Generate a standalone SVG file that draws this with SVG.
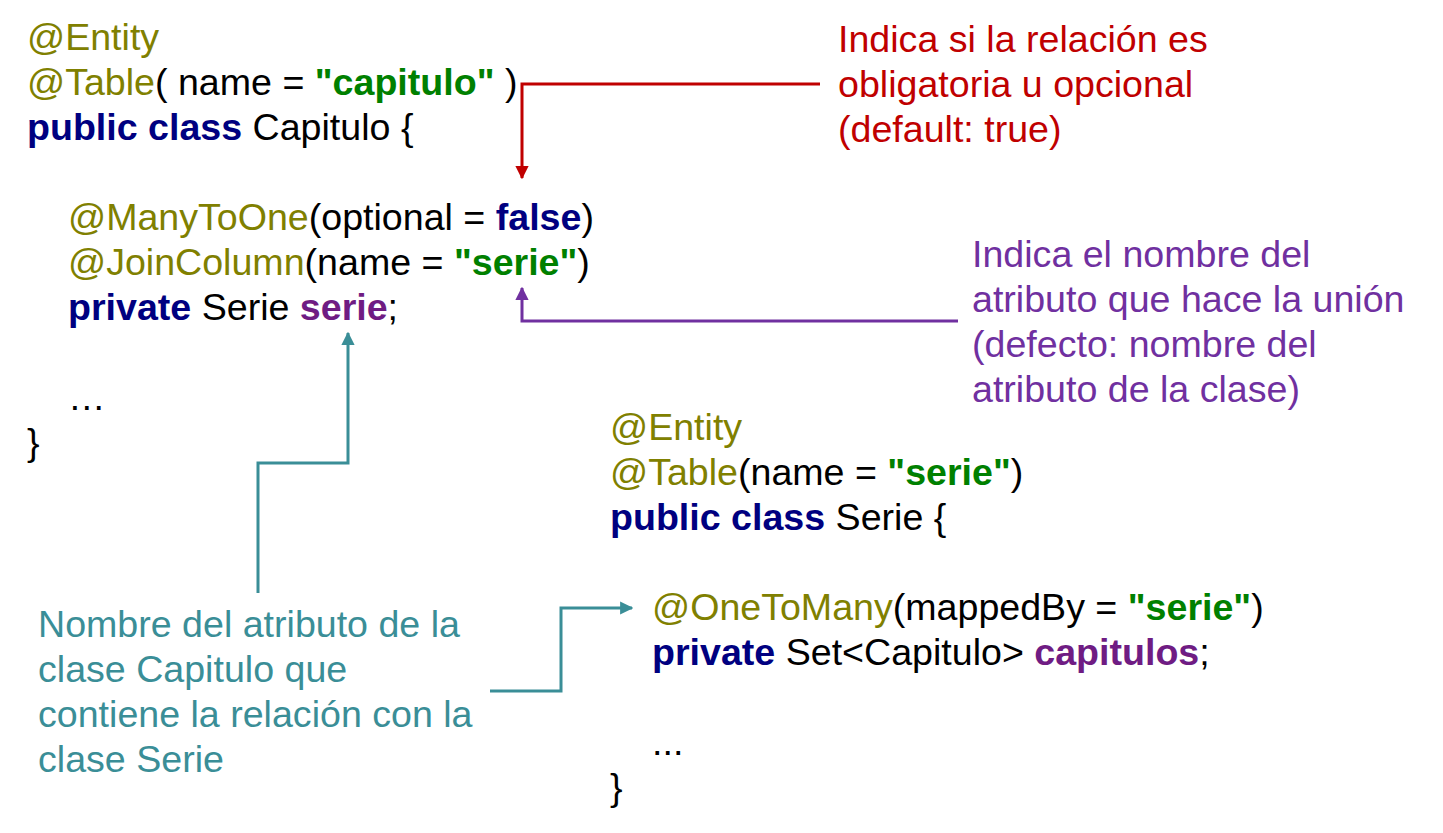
<svg xmlns="http://www.w3.org/2000/svg" width="1443" height="833" viewBox="0 0 1443 833">
<style>
text{font-family:"Liberation Sans",Arial,Helvetica,sans-serif;font-size:37.6px;fill:#000}
.ann{fill:#808000}
.kw{fill:#000080;font-weight:bold}
.str{fill:#008000;font-weight:bold}
.fld{fill:#6F1C83;font-weight:bold}
.red{fill:#C00000}
.pur{fill:#7030A0}
.teal{fill:#3A8E97}
.ln{fill:none;stroke-width:3}
</style>
<defs>
<marker id="ar" viewBox="0 0 10 10" refX="9" refY="5" markerWidth="4.4" markerHeight="4.4" orient="auto"><path d="M0,0L10,5L0,10z" fill="#C00000"/></marker>
<marker id="ap" viewBox="0 0 10 10" refX="9" refY="5" markerWidth="4.4" markerHeight="4.4" orient="auto"><path d="M0,0L10,5L0,10z" fill="#7030A0"/></marker>
<marker id="at" viewBox="0 0 10 10" refX="9" refY="5" markerWidth="4.4" markerHeight="4.4" orient="auto"><path d="M0,0L10,5L0,10z" fill="#3A8E97"/></marker>
</defs>
<rect width="1443" height="833" fill="#fff"/>
<g id="capitulo">
<text x="27" y="50"><tspan class="ann">@Entity</tspan></text>
<text x="27" y="95"><tspan class="ann">@Table</tspan>( name = <tspan class="str">"capitulo"</tspan> )</text>
<text x="27" y="140"><tspan class="kw">public class</tspan> Capitulo {</text>
<text x="68" y="230"><tspan class="ann">@ManyToOne</tspan>(optional = <tspan class="kw">false</tspan>)</text>
<text x="68" y="275"><tspan class="ann">@JoinColumn</tspan>(name = <tspan class="str">"serie"</tspan>)</text>
<text x="68" y="320"><tspan class="kw">private</tspan> Serie <tspan class="fld">serie</tspan>;</text>
<text x="68" y="410">…</text>
<text x="27" y="455">}</text>
</g>
<g id="serie">
<text x="610" y="440"><tspan class="ann">@Entity</tspan></text>
<text x="610" y="485"><tspan class="ann">@Table</tspan>(name = <tspan class="str">"serie"</tspan>)</text>
<text x="610" y="530"><tspan class="kw">public class</tspan> Serie {</text>
<text x="652" y="620"><tspan class="ann">@OneToMany</tspan>(mappedBy = <tspan class="str">"serie"</tspan>)</text>
<text x="652" y="665"><tspan class="kw">private</tspan> Set&lt;Capitulo&gt; <tspan class="fld">capitulos</tspan>;</text>
<text x="652" y="755">...</text>
<text x="610" y="800">}</text>
</g>
<g id="note-optional">
<text class="red" x="838" y="52">Indica si la relación es</text>
<text class="red" x="838" y="97">obligatoria u opcional</text>
<text class="red" x="838" y="142">(default: true)</text>
</g>
<g id="note-joincolumn">
<text class="pur" x="972" y="267">Indica el nombre del</text>
<text class="pur" x="972" y="312">atributo que hace la unión</text>
<text class="pur" x="972" y="357">(defecto: nombre del</text>
<text class="pur" x="972" y="402">atributo de la clase)</text>
</g>
<g id="note-mappedby">
<text class="teal" x="38" y="637">Nombre del atributo de la</text>
<text class="teal" x="38" y="682">clase Capitulo que</text>
<text class="teal" x="38" y="727">contiene la relación con la</text>
<text class="teal" x="38" y="772">clase Serie</text>
</g>
<g id="connectors">
<polyline class="ln" stroke="#C00000" points="820,84 522,84 522,178" marker-end="url(#ar)"/>
<polyline class="ln" stroke="#7030A0" points="958,321 522,321 522,288" marker-end="url(#ap)"/>
<polyline class="ln" stroke="#3A8E97" points="258,593 258,463 348,463 348,333" marker-end="url(#at)"/>
<polyline class="ln" stroke="#3A8E97" points="490,691 561,691 561,608 632,608" marker-end="url(#at)"/>
</g>
</svg>
